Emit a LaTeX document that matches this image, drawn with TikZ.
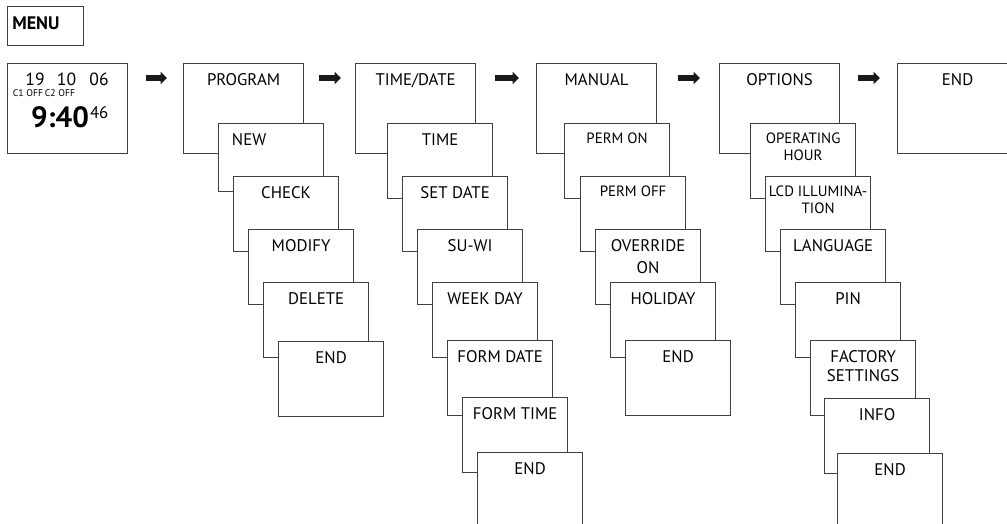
\documentclass[tikz,border=0pt]{standalone}
\usepackage{fontspec}
\setmainfont{PT Sans}
\usetikzlibrary{arrows.meta,positioning}

\newcommand{\boxfont}{\fontsize{12.6}{14.5}\selectfont}
\newcommand{\narrowfont}{\fontsize{11.2}{12.6}\selectfont}

\begin{document}
\begin{tikzpicture}[
  x=0.75pt, y=-0.75pt,
  screen/.style={rectangle,draw=black!75,line width=0.9pt,fill=white,
                 anchor=north west,inner sep=0pt,
                 minimum width=90pt,minimum height=67.5pt},
  sub/.style={screen,minimum width=78.75pt,minimum height=56.25pt},
  title/.style={anchor=north,inner sep=0pt,yshift=-7.5pt,
                align=center,font=\boxfont},
  small/.style={title,font=\narrowfont},
  flow/.style={-{Triangle[length=4.8pt,width=9pt]},line width=4.5pt,black!90},
  node distance=39.75pt and 11.25pt
]
\useasboundingbox (0,0) rectangle (1007,524);

% menu + clock display
\node[screen,minimum width=57pt,minimum height=29.25pt,
      label={[name=menu-t,anchor=west,inner sep=0pt,xshift=3.75pt,yshift=2.25pt,
              font=\fontsize{13.6}{15}\selectfont\bfseries]west:MENU}] (menu) at (7,6) {};
\node[screen] (clock) at (7,63) {};
\node[inner sep=0pt,font=\fontsize{13.2}{15}\selectfont] (day)   at (35,79)   {19};
\node[inner sep=0pt,font=\fontsize{13.2}{15}\selectfont] (month) at (66.5,79) {10};
\node[inner sep=0pt,font=\fontsize{13.2}{15}\selectfont] (year)  at (99,79)   {06};
\node[inner sep=0pt,font=\fontsize{7.3}{8}\selectfont] (c1) at (28,93) {C1 OFF};
\node[inner sep=0pt,font=\fontsize{7.3}{8}\selectfont] (c2) at (60,93) {C2 OFF};
\node[inner sep=0pt,font=\fontsize{22}{24}\selectfont\bfseries] (clk) at (60,117) {9:40};
\node[anchor=north west,inner sep=0pt,font=\boxfont] (sec) at ([xshift=0.5pt]clk.north east) {46};

% PROGRAM
\node[screen,label={[title,name=prog-t]north:PROGRAM}] (prog) at (183,63) {};
\node[sub,minimum height=51pt,label={[title,name=new-t,xshift=-16.5pt]north:NEW},
      below right=45pt and 26.25pt of prog.north west] (new) {};
\node[sub,label={[title,name=check-t]north:CHECK},below right=of new.north west] (check) {};
\node[sub,label={[title,name=modify-t]north:MODIFY},below right=of check.north west] (modify) {};
\node[sub,label={[title,name=delete-t]north:DELETE},below right=of modify.north west] (delete) {};
\node[sub,label={[title,name=prog-end-t]north:END},
      below right=44.25pt and 11.25pt of delete.north west] (prog-end) {};

% TIME/DATE
\node[screen,label={[title,name=date-t]north:TIME/DATE}] (date) at (355,63) {};
\node[sub,label={[title,name=time-t]north:TIME},
      below right=45pt and 24pt of date.north west] (time) {};
\node[sub,label={[title,name=setdate-t]north:SET DATE},below right=of time.north west] (setdate) {};
\node[sub,label={[title,name=suwi-t]north:SU-WI},below right=of setdate.north west] (suwi) {};
\node[sub,label={[title,name=weekday-t]north:WEEK DAY},below right=of suwi.north west] (weekday) {};
\node[sub,label={[title,name=formdate-t]north:FORM DATE},
      below right=43.5pt and 11.25pt of weekday.north west] (formdate) {};
\node[sub,label={[title,name=formtime-t]north:FORM TIME},
      below right=42.75pt and 11.25pt of formdate.north west] (formtime) {};
\node[sub,label={[title,name=date-end-t]north:END},
      below right=41.25pt and 11.25pt of formtime.north west] (date-end) {};

% MANUAL
\node[screen,label={[title,name=manual-t]north:MANUAL}] (manual) at (536,63) {};
\node[sub,label={[small,name=permon-t]north:PERM ON},
      below right=45pt and 21pt of manual.north west] (permon) {};
\node[sub,label={[small,name=permoff-t]north:PERM OFF},
      below right=39.75pt and 12pt of permon.north west] (permoff) {};
\node[sub,label={[title,name=override-t]north:OVERRIDE\\[2.5pt]ON},
      below right=of permoff.north west] (override) {};
\node[sub,label={[title,name=holiday-t]north:HOLIDAY},below right=of override.north west] (holiday) {};
\node[sub,label={[title,name=manual-end-t]north:END},
      below right=43.5pt and 11.25pt of holiday.north west] (manual-end) {};

% OPTIONS
\node[screen,label={[title,name=options-t]north:OPTIONS}] (options) at (719,63) {};
\node[sub,label={[small,name=ophour-t]north:OPERATING\\HOUR},
      below right=45pt and 23.25pt of options.north west] (ophour) {};
\node[sub,label={[small,name=lcd-t]north:LCD ILLUMINA-\\TION},below right=of ophour.north west] (lcd) {};
\node[sub,label={[title,name=language-t]north:LANGUAGE},below right=of lcd.north west] (language) {};
\node[sub,label={[title,name=pin-t]north:PIN},below right=of language.north west] (pin) {};
\node[sub,label={[title,name=factory-t]north:FACTORY\\SETTINGS},
      below right=43.5pt and 11.25pt of pin.north west] (factory) {};
\node[sub,label={[title,name=info-t]north:INFO},
      below right=43.5pt and 10.5pt of factory.north west] (info) {};
\node[sub,label={[title,name=options-end-t]north:END},
      below right=41.25pt and 9.75pt of info.north west] (options-end) {};

\node[screen,label={[title,name=end-t]north:END}] (end) at (897,63) {};

% arrows between the main screens
\draw[flow,shorten <=13.5pt,shorten >=12pt] ([yshift=-11.25pt]clock.north east) -- ([yshift=-11.25pt]prog.north west);
\draw[flow,shorten <=11.25pt,shorten >=10.5pt] ([yshift=-11.25pt]prog.north east) -- ([yshift=-11.25pt]date.north west);
\draw[flow,shorten <=14.25pt,shorten >=12.75pt] ([yshift=-11.25pt]date.north east) -- ([yshift=-11.25pt]manual.north west);
\draw[flow,shorten <=15.75pt,shorten >=14.25pt] ([yshift=-11.25pt]manual.north east) -- ([yshift=-11.25pt]options.north west);
\draw[flow,shorten <=13.5pt,shorten >=12.75pt] ([yshift=-11.25pt]options.north east) -- ([yshift=-11.25pt]end.north west);
\end{tikzpicture}
\end{document}
